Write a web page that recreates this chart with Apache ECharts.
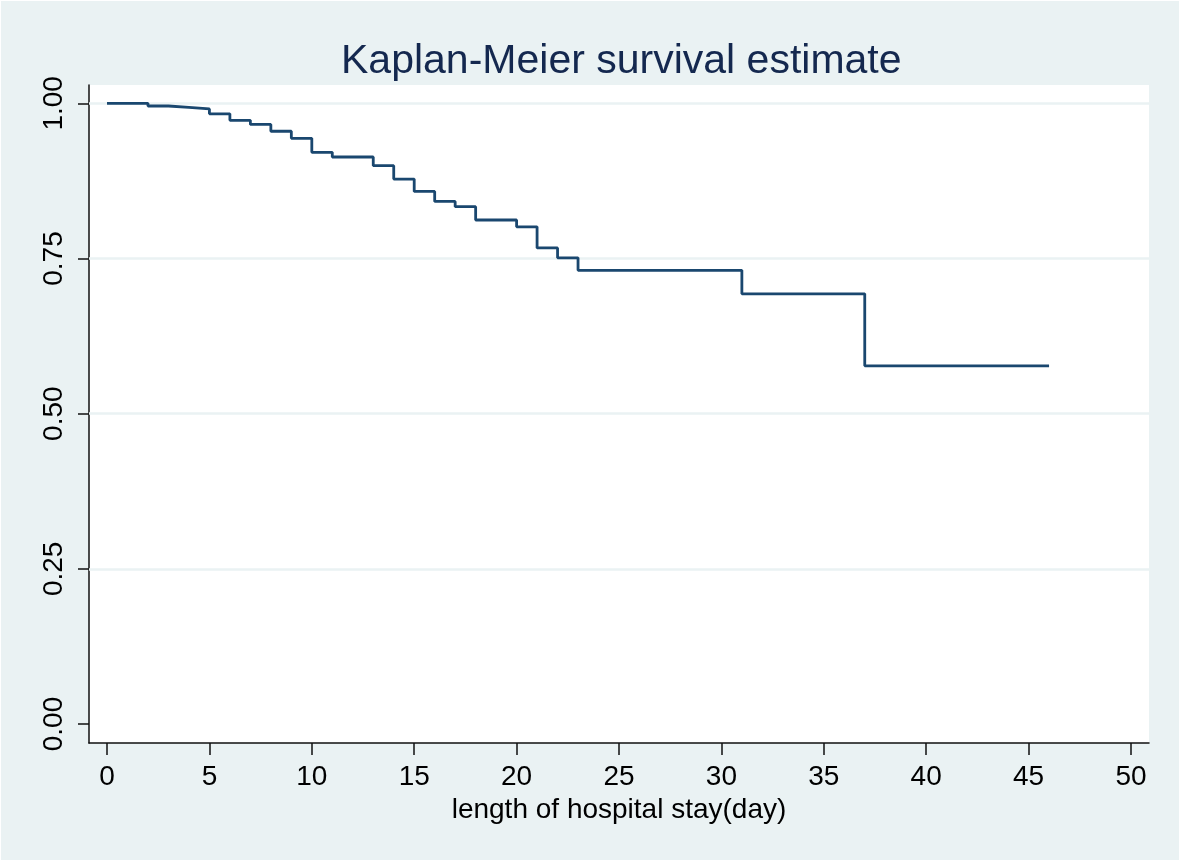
<!DOCTYPE html>
<html>
<head>
<meta charset="utf-8">
<script src="https://cdn.jsdelivr.net/npm/echarts@6/dist/echarts.min.js"></script>
<style>
  html, body { margin: 0; padding: 0; background: #ffffff; }
  #main { position: absolute; left: 1px; top: 1px; width: 1178px; height: 859px; }
</style>
</head>
<body>
<div id="main"></div>
<script>
// Kaplan-Meier step points: time (days) and survival estimate
const times    = [0, 2, 3, 4, 5, 6, 7, 8, 9, 10, 11, 13, 14, 15, 16, 17, 18, 20, 21, 22, 23, 31, 37, 46];
const survival = [1.000, 0.9957, 0.9936, 0.991, 0.983, 0.9726, 0.966, 0.955, 0.9436, 0.921, 0.9135, 0.8995,
                  0.878, 0.858, 0.842, 0.8335, 0.812, 0.801, 0.767, 0.751, 0.731, 0.693, 0.577, 0.577];
const xTicks = [0, 5, 10, 15, 20, 25, 30, 35, 40, 45, 50];
const yTicks = [0, 0.25, 0.5, 0.75, 1.0];
const yTickLabels = ['0.00', '0.25', '0.50', '0.75', '1.00'];
const gridValues = [0.25, 0.5, 0.75, 1.0];

const chart = echarts.init(document.getElementById('main'));
const font = '"Liberation Sans", Arial, sans-serif';
const axisColor = '#111111';

chart.setOption({
  backgroundColor: '#eaf2f3',
  animation: false,
  title: {
    text: 'Kaplan-Meier survival estimate',
    left: 335,
    top: 35,
    textStyle: { fontFamily: font, fontSize: 41, fontWeight: 'normal', color: '#14284f' }
  },
  grid: {
    left: 88, right: 30, top: 84, bottom: 117,
    show: true, backgroundColor: '#ffffff', borderWidth: 0
  },
  xAxis: {
    type: 'value',
    min: -0.88, max: 50.88,
    name: 'length of hospital stay(day)',
    nameLocation: 'middle',
    nameGap: 52,
    nameTextStyle: { fontFamily: font, fontSize: 28, color: '#000000' },
    axisLine: { show: true, onZero: false, lineStyle: { color: axisColor, width: 1.5 } },
    axisTick: { show: true, length: 12, customValues: xTicks, lineStyle: { color: axisColor, width: 1.5 } },
    axisLabel: { customValues: xTicks, margin: 20, fontFamily: font, fontSize: 28, color: '#000000' },
    splitLine: { show: false }
  },
  yAxis: {
    type: 'value',
    min: -0.0306, max: 1.0295,
    axisLine: { show: true, onZero: false, lineStyle: { color: axisColor, width: 1.5 } },
    axisTick: { show: true, length: 11, customValues: yTicks, lineStyle: { color: axisColor, width: 1.5 } },
    axisLabel: {
      customValues: yTicks, rotate: 90, margin: 21,
      fontFamily: font, fontSize: 28, color: '#000000',
      formatter: function (v) {
        const i = yTicks.findIndex(t => Math.abs(t - v) < 1e-9);
        return i >= 0 ? yTickLabels[i] : '';
      }
    },
    splitLine: { show: false }
  },
  series: [
    {
      type: 'line',
      data: [],
      z: 1,
      silent: true,
      markLine: {
        z: 1,
        silent: true,
        animation: false,
        symbol: ['none', 'none'],
        label: { show: false },
        emphasis: { disabled: true },
        lineStyle: { color: '#eaf2f3', width: 2.5, type: 'solid' },
        data: gridValues.map(v => ({ yAxis: v }))
      }
    },
    {
      type: 'line',
      z: 10,
      step: 'end',
      showSymbol: false,
      data: times.map((t, i) => [t, survival[i]]),
      lineStyle: { color: '#1a476f', width: 2.8 }
    }
  ]
});
</script>
</body>
</html>
